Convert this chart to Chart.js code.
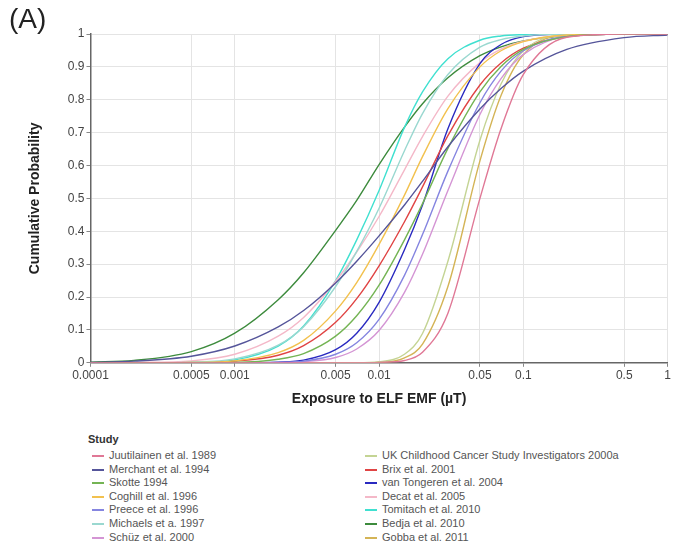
<!DOCTYPE html>
<html>
<head>
<meta charset="utf-8">
<script src="https://cdn.jsdelivr.net/npm/chart.js@4"></script>
<style>
  body { margin: 0; background: #fff; font-family: "Liberation Sans", Arial, sans-serif; }
  #wrap { position: relative; width: 673px; height: 544px; }
  #chart-box { position: absolute; left: 0; top: 0; width: 673px; height: 420px; }
  #panel { position: absolute; left: 9px; top: 3px; font-size: 28px; color: #222; }
  #legend { position: absolute; left: 88px; top: 433px; width: 580px; font-size: 11px; color: #555; }
  #legend .ttl { font-weight: bold; font-size: 11px; color: #333; }
  #legend .col { position: absolute; top: 16px; }
  #legend .item { height: 13.6px; line-height: 13.6px; white-space: nowrap; }
  #legend .sw { display: inline-block; width: 12px; height: 2px; vertical-align: middle; margin-right: 5px; }
</style>
</head>
<body>
<div id="wrap">
  <div id="chart-box"><canvas id="cdf-chart" width="673" height="420"></canvas></div>
  <div id="panel">(A)</div>
  <div id="legend"></div>
</div>
<script>
/* exposure grid (µT) */
const xValues = [0.0001, 0.0002, 0.0005, 0.001, 0.002, 0.003, 0.005, 0.007, 0.01, 0.015, 0.02, 0.03, 0.05, 0.07, 0.1, 0.2, 0.5, 1];
const xTickValues = [0.0001, 0.0005, 0.001, 0.005, 0.01, 0.05, 0.1, 0.5, 1];
const xTickLabels = ['0.0001', '0.0005', '0.001', '0.005', '0.01', '0.05', '0.1', '0.5', '1'];
const yTickLabels = ['0', '0.1', '0.2', '0.3', '0.4', '0.5', '0.6', '0.7', '0.8', '0.9', '1'];

const studies = [
  'Juutilainen et al. 1989', 'Merchant et al. 1994', 'Skotte 1994', 'Coghill et al. 1996',
  'Preece et al. 1996', 'Michaels et a. 1997', 'Schüz et al. 2000',
  'UK Childhood Cancer Study Investigators 2000a', 'Brix et al. 2001', 'van Tongeren et al. 2004',
  'Decat et al. 2005', 'Tomitach et al. 2010', 'Bedja et al. 2010', 'Gobba et al. 2011'
];
const colors = [
  '#e07896', '#55559a', '#74b454', '#f2c14e', '#8585e0', '#9ad8d0', '#d495d4',
  '#c4d494', '#e04444', '#2a2ac0', '#f4b8c8', '#40e0d0', '#3d8b3d', '#d4b456'
];

const juutilainen = [0, 0, 0, 0, 0, 0, 0, 0, 0.001, 0.007, 0.032, 0.151, 0.500, 0.712, 0.877, 0.990, 1, 1];
const merchant = [0.001, 0.005, 0.020, 0.051, 0.109, 0.159, 0.243, 0.309, 0.386, 0.480, 0.552, 0.657, 0.772, 0.834, 0.887, 0.953, 0.989, 0.997];
const skotte = [0, 0, 0, 0.001, 0.011, 0.028, 0.081, 0.143, 0.236, 0.374, 0.484, 0.652, 0.824, 0.901, 0.953, 0.992, 1, 1];
const coghill = [0, 0, 0.001, 0.006, 0.031, 0.068, 0.158, 0.244, 0.360, 0.510, 0.627, 0.773, 0.900, 0.949, 0.977, 0.997, 1, 1];
const preece = [0, 0, 0, 0, 0.001, 0.005, 0.026, 0.061, 0.132, 0.266, 0.390, 0.583, 0.791, 0.887, 0.949, 0.993, 1, 1];
const michaels = [0, 0, 0.002, 0.012, 0.054, 0.110, 0.232, 0.339, 0.470, 0.645, 0.758, 0.877, 0.960, 0.983, 0.994, 1, 1, 1];
const schuz = [0, 0, 0, 0, 0, 0.003, 0.016, 0.042, 0.098, 0.214, 0.330, 0.524, 0.755, 0.864, 0.938, 0.992, 1, 1];
const ukccs = [0, 0, 0, 0, 0, 0, 0, 0, 0.003, 0.026, 0.089, 0.309, 0.677, 0.848, 0.949, 0.998, 1, 1];
const brix = [0, 0, 0.001, 0.005, 0.023, 0.052, 0.123, 0.195, 0.295, 0.429, 0.535, 0.691, 0.845, 0.912, 0.957, 0.992, 1, 1];
const vanTongeren = [0, 0, 0, 0, 0.002, 0.008, 0.040, 0.090, 0.184, 0.344, 0.480, 0.712, 0.910, 0.968, 0.992, 1, 1, 1];
const decat = [0, 0.001, 0.006, 0.026, 0.081, 0.138, 0.248, 0.337, 0.445, 0.587, 0.688, 0.811, 0.913, 0.954, 0.978, 0.996, 1, 1];
const tomitach = [0, 0, 0.001, 0.009, 0.051, 0.112, 0.250, 0.374, 0.524, 0.716, 0.824, 0.925, 0.981, 0.994, 0.998, 1, 1, 1];
const bedja = [0.002, 0.007, 0.034, 0.090, 0.192, 0.274, 0.403, 0.494, 0.603, 0.717, 0.788, 0.867, 0.934, 0.961, 0.979, 0.995, 1, 1];
const gobba = [0, 0, 0, 0, 0, 0, 0, 0, 0.001, 0.015, 0.057, 0.232, 0.614, 0.813, 0.937, 0.997, 1, 1];

const series = [juutilainen, merchant, skotte, coghill, preece, michaels, schuz,
  ukccs, brix, vanTongeren, decat, tomitach, bedja, gobba];

const datasets = series.map((vals, i) => ({
  label: studies[i],
  data: xValues.map((x, j) => ({ x: x, y: vals[j] })),
  borderColor: colors[i],
  backgroundColor: colors[i],
  borderWidth: 1.4,
  pointRadius: 0,
  cubicInterpolationMode: 'monotone',
  fill: false
}));

const config = {
  type: 'line',
  data: { datasets: datasets },
  options: {
    responsive: false,
    animation: false,
    layout: { padding: { left: 27, right: 4, top: 34, bottom: 8 } },
    plugins: {
      legend: { display: false },
      tooltip: { enabled: false }
    },
    scales: {
      x: {
        type: 'logarithmic',
        min: 0.0001,
        max: 1,
        afterBuildTicks: (axis) => { axis.ticks = xTickValues.map(v => ({ value: v })); },
        ticks: {
          autoSkip: false,
          maxRotation: 0,
          color: '#444',
          font: { size: 12, family: '"Liberation Sans", Arial, sans-serif' },
          padding: 2,
          callback: (v, i) => xTickLabels[i]
        },
        grid: { color: '#e4e4e4', tickLength: 4, tickColor: '#888' },
        border: { color: '#666', width: 1.5 },
        title: {
          display: true,
          text: 'Exposure to ELF EMF (µT)',
          color: '#222',
          font: { size: 14, weight: 'bold', family: '"Liberation Sans", Arial, sans-serif' },
          padding: { top: 6 }
        }
      },
      y: {
        min: 0,
        max: 1,
        ticks: {
          stepSize: 0.1,
          color: '#444',
          font: { size: 12, family: '"Liberation Sans", Arial, sans-serif' },
          padding: 2,
          callback: (v, i) => yTickLabels[i]
        },
        grid: { color: '#e4e4e4', tickLength: 4, tickColor: '#888' },
        border: { color: '#666', width: 1.5 },
        title: {
          display: true,
          text: 'Cumulative Probability',
          color: '#222',
          font: { size: 14, weight: 'bold', family: '"Liberation Sans", Arial, sans-serif' },
          padding: { top: 0, bottom: 22 }
        }
      }
    }
  }
};

const cdfChart = new Chart(document.getElementById('cdf-chart'), config);

/* legend in two columns, built from the study names and colours */
const legendEl = document.getElementById('legend');
legendEl.innerHTML = '<div class="ttl">Study</div>';
const half = Math.ceil(studies.length / 2);
[0, 1].forEach(c => {
  const col = document.createElement('div');
  col.className = 'col';
  col.style.left = (4 + c * 273) + 'px';
  for (let i = c * half; i < Math.min(studies.length, (c + 1) * half); i++) {
    const it = document.createElement('div');
    it.className = 'item';
    it.innerHTML = '<span class="sw" style="background:' + colors[i] + '"></span>' + studies[i];
    col.appendChild(it);
  }
  legendEl.appendChild(col);
});
</script>
</body>
</html>
